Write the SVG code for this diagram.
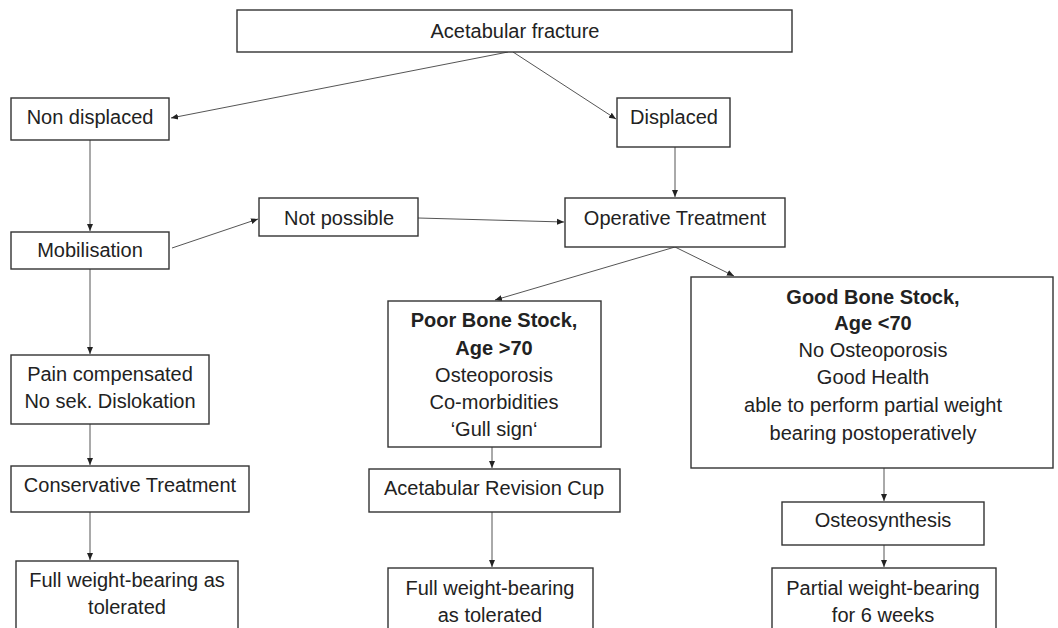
<svg xmlns="http://www.w3.org/2000/svg" width="1058" height="628" viewBox="0 0 1058 628">
<defs>
<marker id="ah" markerWidth="8" markerHeight="8" refX="7" refY="4" orient="auto" markerUnits="userSpaceOnUse">
<path d="M0,1 L7,4 L0,7 Z" fill="#222"/>
</marker>
<style>
.box{fill:#fff;stroke:#333;stroke-width:1.4}
.t{font-family:"Liberation Sans",Arial,sans-serif;font-size:20px;fill:#222;text-anchor:middle}
.b{font-weight:bold}
.c{stroke:#555;stroke-width:1;fill:none;marker-end:url(#ah)}
</style>
</defs>
<rect width="1058" height="628" fill="#fff"/>
<g id="connectors">
<line class="c" x1="508" y1="52" x2="171" y2="118"/>
<line class="c" x1="513" y1="52" x2="616" y2="119"/>
<line class="c" x1="90" y1="140" x2="90" y2="231"/>
<line class="c" x1="675" y1="147" x2="675" y2="197"/>
<line class="c" x1="172" y1="248" x2="258" y2="219"/>
<line class="c" x1="418" y1="218" x2="564" y2="222"/>
<line class="c" x1="90" y1="269" x2="90" y2="354"/>
<line class="c" x1="675" y1="247" x2="495" y2="300"/>
<line class="c" x1="675" y1="247" x2="734" y2="276"/>
<line class="c" x1="90" y1="424" x2="90" y2="465"/>
<line class="c" x1="492" y1="447" x2="492" y2="468"/>
<line class="c" x1="884" y1="468" x2="884" y2="501"/>
<line class="c" x1="90" y1="512" x2="90" y2="560"/>
<line class="c" x1="492" y1="512" x2="492" y2="567"/>
<line class="c" x1="884" y1="545" x2="884" y2="567"/>
</g>
<g id="acetabular-fracture"><rect class="box" x="237" y="10" width="555" height="42"/><text class="t" x="515" y="38">Acetabular fracture</text></g>
<g id="non-displaced"><rect class="box" x="11" y="98" width="158" height="42"/><text class="t" x="90" y="124">Non displaced</text></g>
<g id="displaced"><rect class="box" x="617" y="98" width="113" height="49"/><text class="t" x="674" y="124">Displaced</text></g>
<g id="not-possible"><rect class="box" x="259" y="198" width="159" height="38"/><text class="t" x="339" y="225">Not possible</text></g>
<g id="operative-treatment"><rect class="box" x="565" y="198" width="220" height="49"/><text class="t" x="675" y="225">Operative Treatment</text></g>
<g id="mobilisation"><rect class="box" x="11" y="232" width="158" height="37"/><text class="t" x="90" y="257">Mobilisation</text></g>
<g id="pain-compensated"><rect class="box" x="11" y="355" width="198" height="69"/><text class="t" x="110" y="381">Pain compensated</text><text class="t" x="110" y="408">No sek. Dislokation</text></g>
<g id="conservative-treatment"><rect class="box" x="11" y="466" width="238" height="46"/><text class="t" x="130" y="492">Conservative Treatment</text></g>
<g id="full-weight-left"><rect class="box" x="16" y="561" width="222" height="80"/><text class="t" x="127" y="587">Full weight-bearing as</text><text class="t" x="127" y="614">tolerated</text></g>
<g id="poor-bone-stock"><rect class="box" x="388" y="301" width="213" height="146"/><text class="t b" x="494" y="327">Poor Bone Stock,</text><text class="t b" x="494" y="355">Age &gt;70</text><text class="t" x="494" y="382">Osteoporosis</text><text class="t" x="494" y="409">Co-morbidities</text><text class="t" x="494" y="436">‘Gull sign‘</text></g>
<g id="revision-cup"><rect class="box" x="369" y="469" width="251" height="43"/><text class="t" x="494" y="495">Acetabular Revision Cup</text></g>
<g id="full-weight-mid"><rect class="box" x="388" y="568" width="205" height="80"/><text class="t" x="490" y="595">Full weight-bearing</text><text class="t" x="490" y="622">as tolerated</text></g>
<g id="good-bone-stock"><rect class="box" x="691" y="277" width="362" height="191"/><text class="t b" x="873" y="304">Good Bone Stock,</text><text class="t b" x="873" y="330">Age &lt;70</text><text class="t" x="873" y="357">No Osteoporosis</text><text class="t" x="873" y="384">Good Health</text><text class="t" x="873" y="412">able to perform partial weight</text><text class="t" x="873" y="440">bearing postoperatively</text></g>
<g id="osteosynthesis"><rect class="box" x="782" y="502" width="202" height="43"/><text class="t" x="883" y="527">Osteosynthesis</text></g>
<g id="partial-weight"><rect class="box" x="772" y="568" width="224" height="80"/><text class="t" x="883" y="595">Partial weight-bearing</text><text class="t" x="883" y="622">for 6 weeks</text></g>
</svg>
